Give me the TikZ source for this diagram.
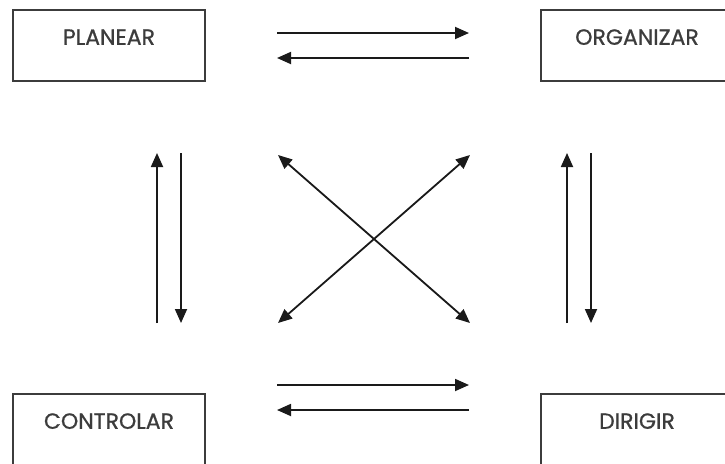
\documentclass[tikz,border=0pt]{standalone}
\usepackage{fontspec}
\setmainfont{Poppins}
\newfontfamily\boxfont[FakeBold=0.8]{Poppins}
\usetikzlibrary{arrows.meta}
\definecolor{ink}{HTML}{1A1A1A}
\tikzset{
  box/.style={draw=ink!85, line width=1.8pt, minimum width=192pt, minimum height=71pt, inner sep=0pt},
  boxtext/.style={anchor=center, yshift=-28pt, font=\boxfont\fontsize{22}{22}\selectfont, text=ink!85},
  tip/.tip={Triangle[length=14pt,width=12pt]},
  arr/.style={draw=ink, line width=1.8pt, -tip},
  darr/.style={draw=ink, line width=1.8pt, tip-tip}
}
\begin{document}
\begin{tikzpicture}[x=1pt,y=-1pt]
\useasboundingbox (0,0) rectangle (725,463);
\fill[white] (0,0) rectangle (725,463);
% boxes
\node[box, label={[boxtext]north:PLANEAR}] (planear) at (109,45.5) {};
\node[box, label={[boxtext]north:ORGANIZAR}] (organizar) at (637,45.5) {};
\node[box, label={[boxtext]north:CONTROLAR}] (controlar) at (109,429.5) {};
\node[box, label={[boxtext]north:DIRIGIR}] (dirigir) at (637,429.5) {};
% coordinates for arrows
\coordinate (ta1) at (277,33);  \coordinate (tb1) at (469,33);
\coordinate (ta2) at (277,58);  \coordinate (tb2) at (469,58);
\coordinate (ba1) at (277,385); \coordinate (bb1) at (469,385);
\coordinate (ba2) at (277,410); \coordinate (bb2) at (469,410);
\coordinate (lu1) at (157,323); \coordinate (lu2) at (157,153);
\coordinate (ld1) at (181,153); \coordinate (ld2) at (181,323);
\coordinate (ru1) at (567,323); \coordinate (ru2) at (567,153);
\coordinate (rd1) at (591,153); \coordinate (rd2) at (591,323);
\coordinate (xtl) at (278,155); \coordinate (xbr) at (470,323);
\coordinate (xtr) at (470,155); \coordinate (xbl) at (278,323);
% horizontal arrows
\draw[arr] (ta1) -- (tb1);
\draw[arr] (tb2) -- (ta2);
\draw[arr] (ba1) -- (bb1);
\draw[arr] (bb2) -- (ba2);
% vertical arrows
\draw[arr] (lu1) -- (lu2);
\draw[arr] (ld1) -- (ld2);
\draw[arr] (ru1) -- (ru2);
\draw[arr] (rd1) -- (rd2);
% diagonal arrows
\draw[darr] (xtl) -- (xbr);
\draw[darr] (xtr) -- (xbl);
\end{tikzpicture}
\end{document}
